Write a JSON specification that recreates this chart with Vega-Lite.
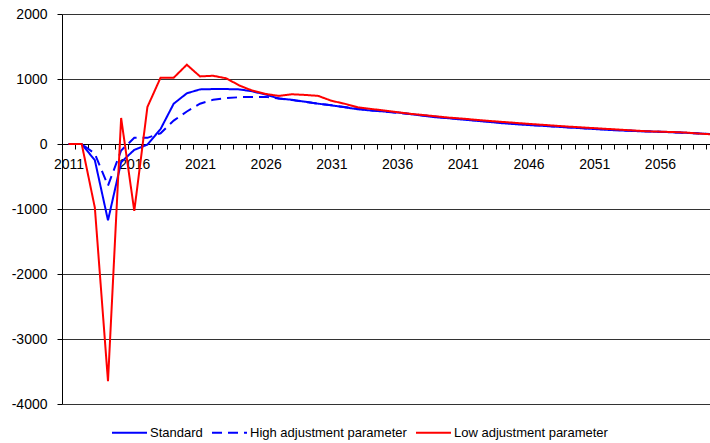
{
  "$schema": "https://vega.github.io/schema/vega-lite/v6.json",
  "width": 648,
  "height": 390,
  "autosize": {"type": "none"},
  "padding": {"left": 62, "top": 14, "right": 0, "bottom": 39},
  "background": "white",
  "config": {
    "view": {"stroke": null},
    "font": "Liberation Sans"
  },
  "data": {
    "values": [
      {"year": 2011, "Standard": 0, "High adjustment parameter": 0, "Low adjustment parameter": 0},
      {"year": 2012, "Standard": 0, "High adjustment parameter": 0, "Low adjustment parameter": 0},
      {"year": 2013, "Standard": -250, "High adjustment parameter": -150, "Low adjustment parameter": -980},
      {"year": 2014, "Standard": -1175, "High adjustment parameter": -640, "Low adjustment parameter": -3650},
      {"year": 2015, "Standard": -280, "High adjustment parameter": -100, "Low adjustment parameter": 400},
      {"year": 2016, "Standard": -90, "High adjustment parameter": 95, "Low adjustment parameter": -1030},
      {"year": 2017, "Standard": -10, "High adjustment parameter": 95, "Low adjustment parameter": 570},
      {"year": 2018, "Standard": 230, "High adjustment parameter": 165, "Low adjustment parameter": 1020},
      {"year": 2019, "Standard": 620, "High adjustment parameter": 360, "Low adjustment parameter": 1020},
      {"year": 2020, "Standard": 780, "High adjustment parameter": 500, "Low adjustment parameter": 1220},
      {"year": 2021, "Standard": 840, "High adjustment parameter": 620, "Low adjustment parameter": 1040},
      {"year": 2022, "Standard": 845, "High adjustment parameter": 680, "Low adjustment parameter": 1050},
      {"year": 2023, "Standard": 845, "High adjustment parameter": 705, "Low adjustment parameter": 1010},
      {"year": 2024, "Standard": 840, "High adjustment parameter": 720, "Low adjustment parameter": 900},
      {"year": 2025, "Standard": 810, "High adjustment parameter": 725, "Low adjustment parameter": 820},
      {"year": 2026, "Standard": 760, "High adjustment parameter": 725, "Low adjustment parameter": 770},
      {"year": 2027, "Standard": 700, "High adjustment parameter": 700, "Low adjustment parameter": 740},
      {"year": 2028, "Standard": 680, "High adjustment parameter": 675, "Low adjustment parameter": 765},
      {"year": 2029, "Standard": 650, "High adjustment parameter": 650, "Low adjustment parameter": 755},
      {"year": 2030, "Standard": 620, "High adjustment parameter": 620, "Low adjustment parameter": 740},
      {"year": 2031, "Standard": 595, "High adjustment parameter": 595, "Low adjustment parameter": 665},
      {"year": 2032, "Standard": 565, "High adjustment parameter": 570, "Low adjustment parameter": 620},
      {"year": 2033, "Standard": 535, "High adjustment parameter": 545, "Low adjustment parameter": 565},
      {"year": 2034, "Standard": 515, "High adjustment parameter": 520, "Low adjustment parameter": 540},
      {"year": 2035, "Standard": 500, "High adjustment parameter": 500, "Low adjustment parameter": 515},
      {"year": 2036, "Standard": 485, "High adjustment parameter": 480, "Low adjustment parameter": 490},
      {"year": 2037, "Standard": 460, "High adjustment parameter": 460, "Low adjustment parameter": 465},
      {"year": 2038, "Standard": 435, "High adjustment parameter": 440, "Low adjustment parameter": 445},
      {"year": 2039, "Standard": 410, "High adjustment parameter": 420, "Low adjustment parameter": 425},
      {"year": 2040, "Standard": 395, "High adjustment parameter": 400, "Low adjustment parameter": 405},
      {"year": 2041, "Standard": 375, "High adjustment parameter": 380, "Low adjustment parameter": 390},
      {"year": 2042, "Standard": 358, "High adjustment parameter": 362, "Low adjustment parameter": 372},
      {"year": 2043, "Standard": 340, "High adjustment parameter": 345, "Low adjustment parameter": 355},
      {"year": 2044, "Standard": 320, "High adjustment parameter": 328, "Low adjustment parameter": 340},
      {"year": 2045, "Standard": 305, "High adjustment parameter": 312, "Low adjustment parameter": 325},
      {"year": 2046, "Standard": 292, "High adjustment parameter": 298, "Low adjustment parameter": 310},
      {"year": 2047, "Standard": 280, "High adjustment parameter": 284, "Low adjustment parameter": 296},
      {"year": 2048, "Standard": 268, "High adjustment parameter": 270, "Low adjustment parameter": 282},
      {"year": 2049, "Standard": 255, "High adjustment parameter": 258, "Low adjustment parameter": 268},
      {"year": 2050, "Standard": 243, "High adjustment parameter": 246, "Low adjustment parameter": 256},
      {"year": 2051, "Standard": 230, "High adjustment parameter": 234, "Low adjustment parameter": 244},
      {"year": 2052, "Standard": 218, "High adjustment parameter": 222, "Low adjustment parameter": 232},
      {"year": 2053, "Standard": 208, "High adjustment parameter": 212, "Low adjustment parameter": 220},
      {"year": 2054, "Standard": 200, "High adjustment parameter": 202, "Low adjustment parameter": 208},
      {"year": 2055, "Standard": 193, "High adjustment parameter": 195, "Low adjustment parameter": 196},
      {"year": 2056, "Standard": 187, "High adjustment parameter": 188, "Low adjustment parameter": 190},
      {"year": 2057, "Standard": 180, "High adjustment parameter": 181, "Low adjustment parameter": 184},
      {"year": 2058, "Standard": 172, "High adjustment parameter": 172, "Low adjustment parameter": 176},
      {"year": 2059, "Standard": 162, "High adjustment parameter": 162, "Low adjustment parameter": 160},
      {"year": 2060, "Standard": 150, "High adjustment parameter": 150, "Low adjustment parameter": 148}
    ]
  },
  "transform": [
    {"fold": ["Standard", "High adjustment parameter", "Low adjustment parameter"], "as": ["series", "value"]}
  ],
  "mark": {"type": "line", "clip": true, "interpolate": "linear", "strokeWidth": 2},
  "encoding": {
    "x": {
      "field": "year",
      "type": "quantitative",
      "scale": {"domain": [2010.5, 2059.81], "nice": false, "zero": false},
      "axis": {
        "title": null,
        "offset": -260,
        "values": [2010.5, 2011, 2011.5, 2012.5, 2013.5, 2014.5, 2015.5, 2016, 2016.5, 2017.5, 2018.5, 2019.5, 2020.5, 2021, 2021.5, 2022.5, 2023.5, 2024.5, 2025.5, 2026, 2026.5, 2027.5, 2028.5, 2029.5, 2030.5, 2031, 2031.5, 2032.5, 2033.5, 2034.5, 2035.5, 2036, 2036.5, 2037.5, 2038.5, 2039.5, 2040.5, 2041, 2041.5, 2042.5, 2043.5, 2044.5, 2045.5, 2046, 2046.5, 2047.5, 2048.5, 2049.5, 2050.5, 2051, 2051.5, 2052.5, 2053.5, 2054.5, 2055.5, 2056, 2056.5, 2057.5, 2058.5, 2059.5],
        "labelExpr": "(datum.value % 1 == 0) ? ('' + datum.value) : ''",
        "tickOpacity": {"condition": {"test": "datum.value % 1 == 0", "value": 0}, "value": 1},
        "grid": false,
        "domainColor": "#000000",
        "domainWidth": 1,
        "tickColor": "#000000",
        "tickSize": 5,
        "labelPadding": 8,
        "labelFontSize": 14,
        "labelColor": "#000000",
        "labelOverlap": false,
        "labelFlush": false
      }
    },
    "y": {
      "field": "value",
      "type": "quantitative",
      "scale": {"domain": [-4000, 2000], "nice": false},
      "axis": {
        "title": null,
        "values": [-4000, -3000, -2000, -1000, 0, 1000, 2000],
        "labelExpr": "'' + datum.value",
        "grid": true,
        "gridColor": "#333333",
        "gridOpacity": 1,
        "gridWidth": 1,
        "domainColor": "#000000",
        "tickColor": "#000000",
        "tickSize": 5,
        "labelPadding": 10,
        "labelFontSize": 14,
        "labelColor": "#000000"
      }
    },
    "color": {
      "field": "series",
      "type": "nominal",
      "sort": ["Standard", "High adjustment parameter", "Low adjustment parameter"],
      "scale": {
        "domain": ["Standard", "High adjustment parameter", "Low adjustment parameter"],
        "range": ["#0000ff", "#0000ff", "#ff0000"]
      },
      "legend": {
        "title": null,
        "orient": "none",
        "legendX": 49,
        "legendY": 400,
        "direction": "horizontal",
        "symbolType": "stroke",
        "symbolSize": 1225,
        "symbolStrokeWidth": 2,
        "labelFontSize": 13,
        "labelColor": "#000000",
        "labelOffset": 2,
        "columnPadding": 5,
        "padding": 0
      }
    },
    "strokeDash": {
      "field": "series",
      "type": "nominal",
      "scale": {
        "domain": ["Standard", "High adjustment parameter", "Low adjustment parameter"],
        "range": [[1, 0], [10, 6], [1, 0]]
      },
      "legend": null
    },
    "strokeWidth": {
      "condition": {"test": "datum.series === 'High adjustment parameter'", "value": 1.6},
      "value": 2
    },
    "order": {"field": "year", "type": "quantitative"}
  }
}
